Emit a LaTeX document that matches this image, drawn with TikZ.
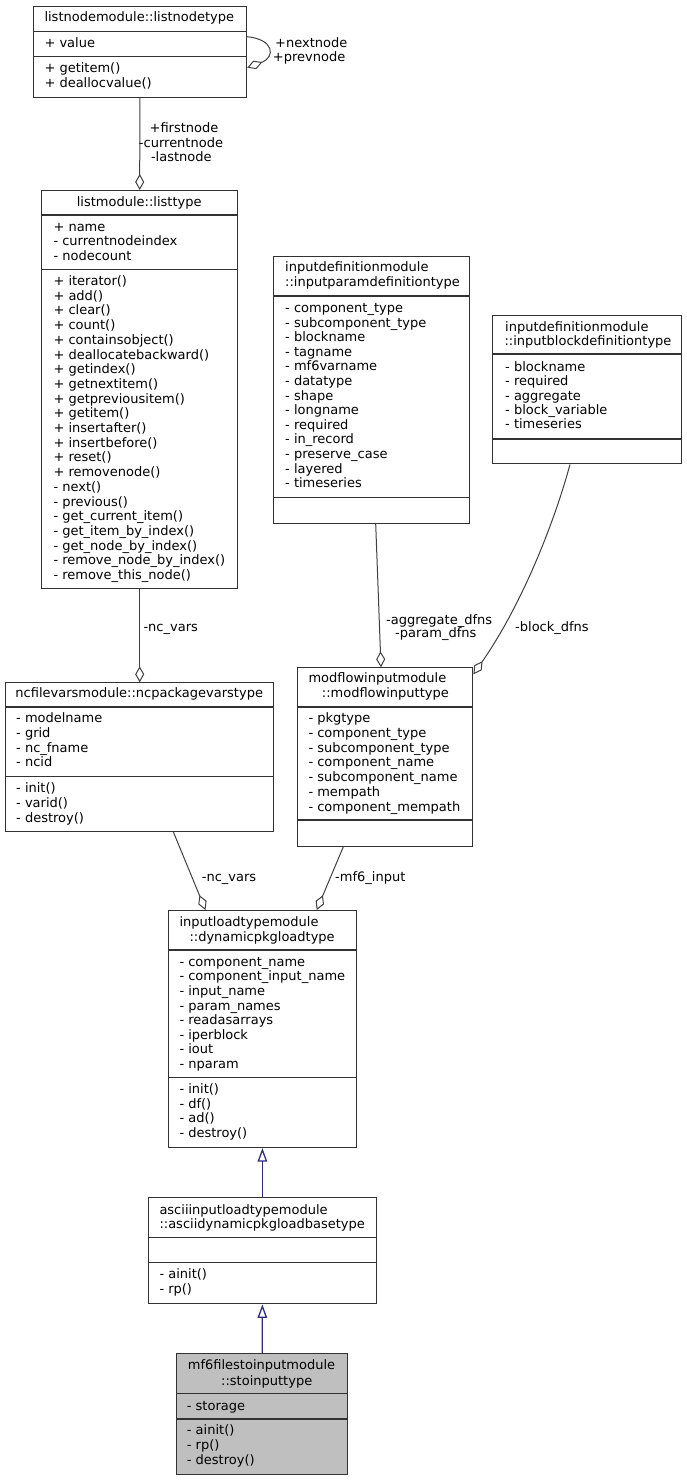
\documentclass[tikz,border=0pt]{standalone}
\usepackage{fontspec}
\setmainfont{DejaVu Sans}
\usetikzlibrary{arrows.meta,calc}
\definecolor{boxline}{RGB}{50,50,50}
\definecolor{edgegray}{RGB}{64,64,64}
\definecolor{inhblue}{RGB}{45,45,130}
\definecolor{mainfill}{RGB}{191,191,191}
\begin{document}
\begin{tikzpicture}[x=1pt,y=-1pt,
  umlbox/.style={draw=boxline, line width=1.1pt, inner sep=0pt, anchor=north west},
  sepline/.style={draw=boxline, line width=1.1pt},
  txt/.style={anchor=base west, inner sep=0pt, font=\fontsize{13}{14.7}\selectfont},
  ctxt/.style={anchor=base, inner sep=0pt, font=\fontsize{13}{14.7}\selectfont},
  agg/.style={draw=edgegray, line width=1pt, -{Diamond[open, length=16pt, width=9pt, line width=1pt]}},
  inh/.style={draw=inhblue, line width=1.3pt, -{Triangle[open, length=13.5pt, width=9.5pt, line width=1.3pt]}},
]
\useasboundingbox (0,0) rectangle (687,1480);

% ---------- boxes ----------
\node[umlbox, minimum width=212.6pt, minimum height=91pt] (ln) at (33,5.7) {};
\node[umlbox, minimum width=196.3pt, minimum height=398.3pt] (lt) at (41,190) {};
\node[umlbox, minimum width=195.7pt, minimum height=267pt] (ip) at (273.3,255.7) {};
\node[umlbox, minimum width=188.7pt, minimum height=148.3pt] (ib) at (492.3,315) {};
\node[umlbox, minimum width=268.3pt, minimum height=148.4pt] (nc) at (5,682.3) {};
\node[umlbox, minimum width=175pt, minimum height=178.4pt] (mf) at (297.3,667.3) {};
\node[umlbox, minimum width=188.3pt, minimum height=237pt] (dy) at (167.7,910) {};
\node[umlbox, minimum width=228.3pt, minimum height=106pt] (as) at (147.7,1197.3) {};
\node[umlbox, fill=mainfill, minimum width=171.3pt, minimum height=120.7pt] (st) at (176,1353.3) {};

% ---------- separators ----------
\foreach \b/\s in {ln/26, ln/51, lt/25, lt/79.3, ip/40.3, ip/241.6, ib/39, ib/124,
                   nc/24.7, nc/94.4, mf/39.7, mf/152.7, dy/40, dy/167.7,
                   as/40.4, as/65.4, st/40, st/65.7}
  \draw[sepline] ($(\b.north west)+(0,\s)$) -- ($(\b.north east)+(0,\s)$);

% ---------- texts ----------
% listnodetype
\node[ctxt] (lnt) at (139.3,21.8) {listnodemodule::listnodetype};
\node[txt] (lna) at (44.3,47.2) {+ value};
\foreach \t [count=\i] in {+ getitem(), + deallocvalue()}
  \node[txt] (lnm\i) at (44.3,{72.8+(\i-1)*14.7}) {\t};

% listtype
\node[ctxt] (ltt) at (139.2,206.2) {listmodule::listtype};
\foreach \t [count=\i] in {+ name, - currentnodeindex, - nodecount}
  \node[txt] (lta\i) at (53.3,{231.2+(\i-1)*14.7}) {\t};
\foreach \t [count=\i] in {+ iterator(), + add(), + clear(), + count(), + containsobject(),
  + deallocatebackward(), + getindex(), + getnextitem(), + getpreviousitem(), + getitem(),
  + insertafter(), + insertbefore(), + reset(), + removenode(), - next(), - previous(),
  - get\_current\_item(), - get\_item\_by\_index(), - get\_node\_by\_index(),
  - remove\_node\_by\_index(), - remove\_this\_node()}
  \node[txt] (ltm\i) at (53.3,{285.5+(\i-1)*14.7}) {\t};

% inputparamdefinitiontype
\node[txt] (ipt1) at (285,271.5) {inputdefinitionmodule};
\node[txt] (ipt2) at (285,286.5) {::inputparamdefinitiontype};
\foreach \t [count=\i] in {- component\_type, - subcomponent\_type, - blockname, - tagname,
  - mf6varname, - datatype, - shape, - longname, - required, - in\_record,
  - preserve\_case, - layered, - timeseries}
  \node[txt] (ipa\i) at (285,{312.5+(\i-1)*14.6}) {\t};

% inputblockdefinitiontype
\node[txt] (ibt1) at (505,331.2) {inputdefinitionmodule};
\node[txt] (ibt2) at (504.3,345.5) {::inputblockdefinitiontype};
\foreach \t [count=\i] in {- blockname, - required, - aggregate, - block\_variable, - timeseries}
  \node[txt] (iba\i) at (505,{371.2+(\i-1)*14.4}) {\t};

% ncpackagevarstype
\node[ctxt] (nct) at (139.2,697.8) {ncfilevarsmodule::ncpackagevarstype};
\foreach \t [count=\i] in {- modelname, - grid, - nc\_fname, - ncid}
  \node[txt] (nca\i) at (16,{722.8+(\i-1)*14.7}) {\t};
\foreach \t [count=\i] in {- init(), - varid(), - destroy()}
  \node[txt] (ncm\i) at (16,{792.8+(\i-1)*14.7}) {\t};

% modflowinputtype
\node[txt] (mft1) at (308.3,682.5) {modflowinputmodule};
\node[txt] (mft2) at (321.7,697.5) {::modflowinputtype};
\foreach \t [count=\i] in {- pkgtype, - component\_type, - subcomponent\_type, - component\_name,
  - subcomponent\_name, - mempath, - component\_mempath}
  \node[txt] (mfa\i) at (308.3,{722.8+(\i-1)*14.73}) {\t};

% dynamicpkgloadtype
\node[txt] (dyt1) at (179.3,926.2) {inputloadtypemodule};
\node[txt] (dyt2) at (189.3,941.2) {::dynamicpkgloadtype};
\foreach \t [count=\i] in {- component\_name, - component\_input\_name, - input\_name, - param\_names,
  - readasarrays, - iperblock, - iout, - nparam}
  \node[txt] (dya\i) at (179.3,{966.2+(\i-1)*14.6}) {\t};
\foreach \t [count=\i] in {- init(), - df(), - ad(), - destroy()}
  \node[txt] (dym\i) at (179.3,{1093.5+(\i-1)*14.7}) {\t};

% asciidynamicpkgloadbasetype
\node[txt] (ast1) at (159.3,1214.5) {asciiinputloadtypemodule};
\node[txt] (ast2) at (159.3,1228.8) {::asciidynamicpkgloadbasetype};
\foreach \t [count=\i] in {- ainit(), - rp()}
  \node[txt] (asm\i) at (159.3,{1278.8+(\i-1)*14.7}) {\t};

% stoinputtype
\node[txt] (stt1) at (187.7,1369.5) {mf6filestoinputmodule};
\node[txt] (stt2) at (221,1385.2) {::stoinputtype};
\node[txt] (sta1) at (186.7,1410.5) {- storage};
\foreach \t [count=\i] in {- ainit(), - rp(), - destroy()}
  \node[txt] (stm\i) at (186.7,{1434.5+(\i-1)*15.2}) {\t};

% ---------- connectors ----------
% self loop on listnodetype
\draw[agg] ($(ln.north east)+(0,31)$) .. controls (274,39) and (276,57) .. ($(ln.north east)+(0.6,62)$);
\node[txt] (l1a) at (275,47.2) {+nextnode};
\node[txt] (l1b) at (272.7,61.8) {+prevnode};

% listnodetype -> listtype
\draw[agg] (ln.south) -- (lt.north);
\node[ctxt] (l2a) at (184,132.2) {+firstnode};
\node[ctxt] (l2b) at (181,147.2) {-currentnode};
\node[ctxt] (l2c) at (181.3,161.2) {-lastnode};

% listtype -> ncpackagevarstype
\draw[agg] (lt.south) -- (nc.north);
\node[txt] (l3) at (143.3,631.2) {-nc\_vars};

% inputparamdefinitiontype -> modflowinputtype
\draw[agg] ($(ip.south west)+(102.4,0)$) -- ($(mf.north west)+(83.7,0)$);
\node[txt] (l4a) at (386,624.5) {-aggregate\_dfns};
\node[txt] (l4b) at (395,637.8) {-param\_dfns};

% inputblockdefinitiontype -> modflowinputtype
\draw[agg] ($(ib.south west)+(77.7,0)$) .. controls (555,520) and (523,603) .. ($(mf.north east)+(0,7)$);
\node[txt] (l5) at (515,631.2) {-block\_dfns};

% ncpackagevarstype -> dynamicpkgloadtype
\draw[agg] ($(nc.south west)+(168.3,0)$) -- ($(dy.north west)+(37.8,0)$);
\node[txt] (l6) at (201.7,881.2) {-nc\_vars};

% modflowinputtype -> dynamicpkgloadtype
\draw[agg] ($(mf.south west)+(46,0)$) -- ($(dy.north west)+(149,0)$);
\node[txt] (l7) at (335,881.2) {-mf6\_input};

% inheritance
\draw[inh] (as.north) -- (dy.south);
\draw[inh] (st.north) -- (as.south);
\end{tikzpicture}
\end{document}
